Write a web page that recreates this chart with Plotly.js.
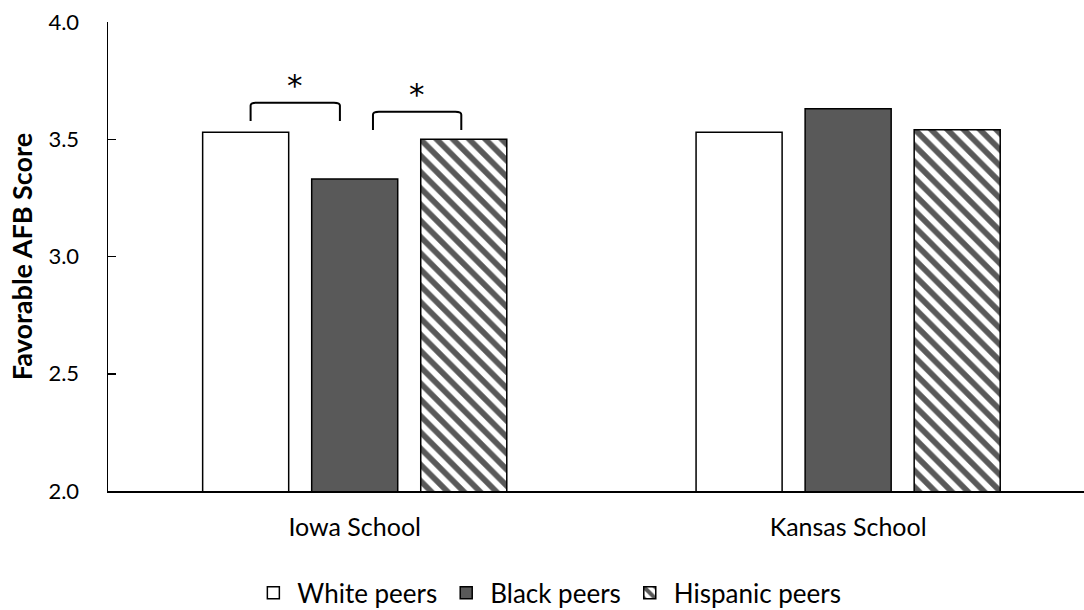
<!DOCTYPE html>
<html>
<head>
<meta charset="utf-8">
<script src="https://cdn.plot.ly/plotly-3.0.1.min.js"></script>
<style>
html,body{margin:0;padding:0;background:#fff;}
#chart{width:1084px;height:610px;}
</style>
</head>
<body>
<div id="chart"></div>
<script>
// ---- data ----
const categories = ['Iowa School', 'Kansas School'];
const seriesNames = ['White peers', 'Black peers', 'Hispanic peers'];
const whitePeers = [3.53, 3.53];
const blackPeers = [3.33, 3.63];
const hispanicPeers = [3.50, 3.54];
const yTickVals = [2.0, 2.5, 3.0, 3.5, 4.0];
// significance brackets (Iowa School): pair of series indices, bracket top level
const sigCategory = [0, 0];
const sigFrom = [0, 1];
const sigTo = [1, 2];
const sigLevel = [3.656, 3.617];
const sigLabel = ['*', '*'];

// ---- styling / geometry ----
const BARGAP = 0.337, BARGROUPGAP = 0.211;
const BRACKET_INSET = [[0.01, 0.03], [0.037, 0.005]];
const BRACKET_DROP = 0.078;
const FONT = 'Lato, "Open Sans", sans-serif';

const xIdx = categories.map((c, i) => i);
const seriesVals = [whitePeers, blackPeers, hispanicPeers];

const markers = [
  {color: '#ffffff', line: {color: '#000000', width: 1.5}},
  {color: '#595959', line: {color: '#000000', width: 1.5}},
  {color: '#ffffff', line: {color: '#000000', width: 1.5},
   pattern: {shape: '\\', fgcolor: '#595959', fgopacity: 1, bgcolor: '#ffffff', size: 11.5, solidity: 0.5, fillmode: 'overlay'}}
];

const traces = seriesNames.map((n, i) => ({
  type: 'bar',
  name: n,
  x: xIdx,
  y: seriesVals[i],
  marker: markers[i],
  hoverinfo: 'name+y'
}));

// bar center offset within a category (in category units)
const slot = (1 - BARGAP) / seriesNames.length;
function barCenter(cat, s) { return cat + (s - (seriesNames.length - 1) / 2) * slot; }

const shapes = [];
const annotations = [];
for (let k = 0; k < sigFrom.length; k++) {
  const x0 = barCenter(sigCategory[k], sigFrom[k]) + BRACKET_INSET[k][0];
  const x1 = barCenter(sigCategory[k], sigTo[k]) - BRACKET_INSET[k][1];
  const yt = sigLevel[k], yb = sigLevel[k] - BRACKET_DROP;
  const r = 0.012, ry = 0.012;
  shapes.push({
    type: 'path', xref: 'x', yref: 'y',
    path: `M${x0},${yb} L${x0},${yt - ry} Q${x0},${yt} ${x0 + r},${yt} L${x1 - r},${yt} Q${x1},${yt} ${x1},${yt - ry} L${x1},${yb}`,
    line: {color: '#000000', width: 2}
  });
  annotations.push({
    x: (x0 + x1) / 2, y: yt, xref: 'x', yref: 'y',
    text: sigLabel[k], showarrow: false, yanchor: 'middle', yshift: 18,
    font: {family: '"DejaVu Sans", sans-serif', size: 31, color: '#000'}
  });
}

const layout = {
  width: 1084, height: 610,
  margin: {l: 108, r: 0, t: 22, b: 119, pad: 0},
  paper_bgcolor: '#ffffff', plot_bgcolor: '#ffffff',
  barmode: 'group', bargap: BARGAP, bargroupgap: BARGROUPGAP,
  font: {family: FONT, color: '#000000'},
  showlegend: true,
  legend: {
    orientation: 'h', xref: 'container', yref: 'container',
    x: 0.5054, xanchor: 'center', y: 0.028, yanchor: 'middle',
    font: {family: FONT, size: 26, color: '#000'},
    itemwidth: 38,
    itemclick: false, itemdoubleclick: false,
    traceorder: 'normal'
  },
  xaxis: {
    type: 'linear', range: [-0.5, 1.478],
    tickvals: xIdx, ticktext: categories,
    showline: true, linecolor: '#000', linewidth: 1.5,
    ticks: '', showgrid: false, zeroline: false,
    tickfont: {family: FONT, size: 25, color: '#000'},
    ticklabelstandoff: 13,
    fixedrange: true
  },
  yaxis: {
    range: [2, 4], tickvals: yTickVals, tickformat: '.1f',
    showline: true, linecolor: '#000', linewidth: 1.5,
    ticks: 'inside', ticklen: 8, tickwidth: 1.5, tickcolor: '#000',
    showgrid: false, zeroline: false,
    tickfont: {family: FONT, size: 22, color: '#000'},
    ticklabelstandoff: 23,
    title: {text: 'Favorable AFB Score', font: {family: FONT, size: 27, color: '#000', weight: 'bold'}, standoff: 8},
    fixedrange: true
  },
  shapes: shapes,
  annotations: annotations
};

Plotly.newPlot('chart', traces, layout, {displayModeBar: false, staticPlot: true});
</script>
</body>
</html>
